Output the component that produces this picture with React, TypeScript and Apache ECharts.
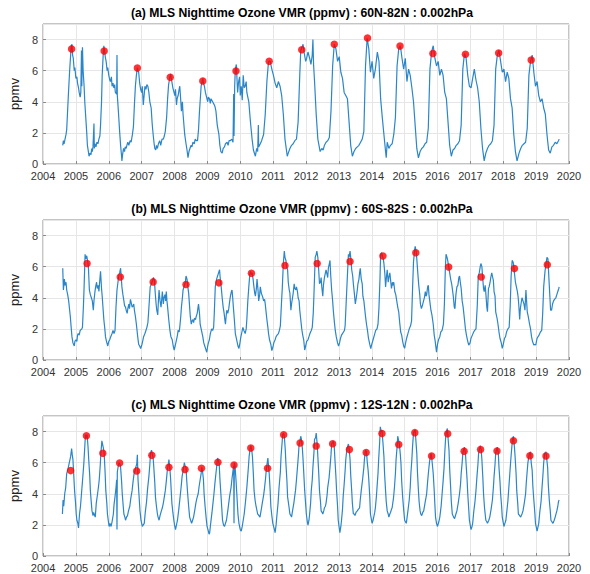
import React, { useEffect, useRef } from "react";
import * as echarts from "echarts";

const panelTitles = [
  "(a) MLS Nighttime Ozone VMR (ppmv) : 60N-82N : 0.002hPa",
  "(b) MLS Nighttime Ozone VMR (ppmv) : 60S-82S : 0.002hPa",
  "(c) MLS Nighttime Ozone VMR (ppmv) : 12S-12N : 0.002hPa",
];
const yAxisName = "ppmv";
const yearMin = 2004;
const yearMax = 2020;

// (a) 60N-82N daily series [year, ppmv]
const ozoneA: [number, number][] = [
  [2004.6,1.2],[2004.62,1.5],[2004.64,1.3],[2004.67,1.6],[2004.7,1.9],[2004.72,2.2],[2004.75,3.5],[2004.78,4.8],[2004.81,6.0],[2004.84,7.0],[2004.86,7.6],[2004.88,7.7],[2004.9,7.0],[2004.92,6.8],[2004.95,6.0],[2004.97,6.2],
  [2005.0,5.5],[2005.03,5.6],[2005.05,5.2],[2005.08,4.9],[2005.1,4.6],[2005.13,4.3],[2005.15,4.6],[2005.17,7.3],[2005.18,5.0],[2005.2,7.5],[2005.22,6.0],[2005.25,5.0],[2005.27,4.0],[2005.3,3.0],[2005.33,2.0],[2005.35,1.2],[2005.38,0.8],[2005.4,0.5],[2005.43,0.7],[2005.46,0.6],[2005.48,1.0],[2005.5,0.8],[2005.52,1.1],[2005.55,2.6],[2005.56,1.0],[2005.58,1.3],[2005.61,1.1],[2005.64,1.4],[2005.67,1.3],[2005.7,1.6],[2005.73,1.8],[2005.75,2.5],[2005.78,4.0],[2005.8,5.7],[2005.83,7.0],[2005.85,7.6],[2005.87,7.3],[2005.9,6.8],[2005.92,6.6],[2005.95,6.0],[2005.97,6.2],
  [2006.0,5.7],[2006.03,5.4],[2006.05,5.3],[2006.08,5.6],[2006.1,5.0],[2006.13,5.2],[2006.15,4.9],[2006.18,5.1],[2006.2,4.6],[2006.24,4.5],[2006.25,7.0],[2006.26,4.4],[2006.28,3.8],[2006.31,2.8],[2006.33,2.1],[2006.36,1.2],[2006.39,0.5],[2006.4,0.2],[2006.42,0.6],[2006.45,1.0],[2006.48,0.8],[2006.5,1.1],[2006.53,1.0],[2006.55,1.2],[2006.58,1.4],[2006.61,1.2],[2006.65,1.5],[2006.68,1.4],[2006.72,1.9],[2006.75,2.4],[2006.78,3.8],[2006.81,5.0],[2006.84,5.7],[2006.87,6.2],[2006.89,6.0],[2006.91,5.9],[2006.94,5.2],[2006.97,4.8],
  [2007.0,4.6],[2007.02,5.0],[2007.05,3.8],[2007.08,4.5],[2007.1,5.0],[2007.13,4.8],[2007.16,5.1],[2007.19,5.0],[2007.22,4.6],[2007.25,4.0],[2007.29,3.6],[2007.32,2.6],[2007.35,1.9],[2007.38,1.3],[2007.4,1.0],[2007.43,0.9],[2007.45,1.2],[2007.48,1.0],[2007.51,1.3],[2007.55,1.5],[2007.58,1.2],[2007.62,1.6],[2007.66,1.6],[2007.69,1.8],[2007.72,2.1],[2007.76,3.0],[2007.79,4.2],[2007.82,5.1],[2007.86,5.6],[2007.88,5.8],[2007.91,5.4],[2007.95,4.9],
  [2008.01,4.4],[2008.03,4.8],[2008.06,3.8],[2008.08,4.2],[2008.11,4.4],[2008.14,4.8],[2008.16,5.0],[2008.18,4.4],[2008.21,3.4],[2008.24,4.0],[2008.26,3.2],[2008.31,1.9],[2008.35,1.3],[2008.38,0.9],[2008.41,0.4],[2008.44,0.8],[2008.47,1.0],[2008.5,1.2],[2008.53,1.1],[2008.56,1.4],[2008.6,1.3],[2008.63,1.6],[2008.66,1.5],[2008.7,1.5],[2008.73,2.2],[2008.76,3.4],[2008.81,5.0],[2008.84,5.3],[2008.86,5.5],[2008.88,5.2],[2008.91,5.0],[2008.94,4.6],
  [2009.01,4.0],[2009.03,4.3],[2009.06,4.2],[2009.09,3.9],[2009.11,4.2],[2009.16,4.0],[2009.21,3.8],[2009.23,3.7],[2009.26,3.4],[2009.3,2.5],[2009.35,1.9],[2009.38,1.2],[2009.41,0.8],[2009.45,0.7],[2009.48,1.0],[2009.52,1.1],[2009.55,1.3],[2009.6,1.4],[2009.63,1.2],[2009.66,1.5],[2009.7,1.5],[2009.74,1.6],[2009.78,1.4],[2009.8,4.5],[2009.81,1.8],[2009.83,5.0],[2009.85,6.1],[2009.88,6.4],[2009.9,5.5],[2009.92,4.6],[2009.95,5.3],[2009.98,5.6],
  [2010.0,4.4],[2010.03,5.0],[2010.06,4.1],[2010.09,5.7],[2010.12,4.9],[2010.15,5.0],[2010.18,5.3],[2010.2,4.6],[2010.26,4.0],[2010.31,2.7],[2010.36,1.6],[2010.4,0.9],[2010.46,0.5],[2010.5,1.0],[2010.53,0.8],[2010.55,2.5],[2010.56,1.1],[2010.61,1.3],[2010.65,1.5],[2010.68,1.7],[2010.71,1.9],[2010.76,3.2],[2010.81,5.3],[2010.86,6.6],[2010.91,6.6],[2010.96,6.1],
  [2011.01,5.7],[2011.06,5.2],[2011.11,4.9],[2011.16,5.3],[2011.21,5.0],[2011.26,4.4],[2011.31,3.2],[2011.36,1.6],[2011.43,0.5],[2011.46,0.7],[2011.51,1.0],[2011.56,1.2],[2011.61,1.3],[2011.66,1.5],[2011.71,1.6],[2011.76,2.7],[2011.81,5.7],[2011.84,7.3],[2011.88,7.5],[2011.91,7.7],[2011.94,7.2],[2011.99,6.6],
  [2012.02,6.8],[2012.06,7.2],[2012.11,6.8],[2012.15,6.4],[2012.19,7.0],[2012.21,8.0],[2012.23,6.4],[2012.26,5.3],[2012.31,3.2],[2012.36,1.6],[2012.43,0.8],[2012.48,1.0],[2012.52,0.9],[2012.56,1.2],[2012.61,1.4],[2012.66,1.5],[2012.71,1.7],[2012.76,3.4],[2012.81,6.3],[2012.86,7.7],[2012.91,7.4],[2012.96,6.6],
  [2013.01,6.9],[2013.06,5.9],[2013.11,5.5],[2013.16,4.6],[2013.21,4.4],[2013.26,4.2],[2013.31,2.7],[2013.36,1.2],[2013.41,0.5],[2013.46,0.8],[2013.51,1.0],[2013.56,1.1],[2013.61,1.2],[2013.66,1.4],[2013.71,1.6],[2013.76,2.1],[2013.81,6.3],[2013.86,8.1],[2013.91,7.4],[2013.96,5.9],
  [2014.01,6.6],[2014.06,5.5],[2014.11,6.1],[2014.17,7.2],[2014.22,6.6],[2014.27,4.2],[2014.32,3.0],[2014.37,1.9],[2014.42,0.8],[2014.44,0.4],[2014.47,1.4],[2014.52,1.0],[2014.57,1.2],[2014.62,1.3],[2014.67,1.9],[2014.72,3.0],[2014.77,6.3],[2014.82,7.4],[2014.87,7.6],[2014.92,6.8],[2014.97,6.1],
  [2015.02,6.8],[2015.07,5.3],[2015.12,6.1],[2015.17,5.7],[2015.22,4.9],[2015.27,4.0],[2015.32,2.5],[2015.37,1.0],[2015.42,0.4],[2015.47,0.8],[2015.52,1.0],[2015.57,1.1],[2015.62,1.3],[2015.67,1.4],[2015.72,2.3],[2015.77,6.1],[2015.82,7.2],[2015.87,7.6],[2015.92,6.8],[2015.97,6.3],
  [2016.02,6.6],[2016.07,5.7],[2016.12,6.1],[2016.17,5.7],[2016.22,4.6],[2016.27,4.2],[2016.32,2.7],[2016.37,1.2],[2016.42,0.5],[2016.47,0.9],[2016.52,1.0],[2016.57,1.2],[2016.62,1.3],[2016.67,1.5],[2016.72,2.5],[2016.77,6.1],[2016.82,7.1],[2016.87,6.8],[2016.92,5.7],[2016.97,5.0],
  [2017.02,4.9],[2017.07,5.5],[2017.12,6.1],[2017.17,5.4],[2017.22,4.9],[2017.27,4.0],[2017.32,2.3],[2017.37,1.0],[2017.42,0.2],[2017.47,0.7],[2017.52,1.0],[2017.57,1.2],[2017.62,1.3],[2017.67,1.5],[2017.72,2.5],[2017.77,6.1],[2017.82,7.0],[2017.87,7.3],[2017.92,6.6],[2017.97,5.9],
  [2018.02,6.1],[2018.07,5.3],[2018.12,5.9],[2018.17,5.5],[2018.22,4.2],[2018.27,3.6],[2018.32,1.9],[2018.37,0.8],[2018.42,0.2],[2018.48,0.7],[2018.53,1.0],[2018.58,1.2],[2018.63,1.3],[2018.68,1.4],[2018.73,2.3],[2018.78,5.7],[2018.83,6.6],[2018.88,7.0],[2018.93,5.9],[2018.98,5.0],
  [2019.03,5.3],[2019.08,4.4],[2019.13,4.0],[2019.18,4.2],[2019.23,3.6],[2019.28,3.2],[2019.33,1.9],[2019.38,0.9],[2019.43,0.7],[2019.48,1.1],[2019.53,1.2],[2019.58,1.4],[2019.63,1.3],[2019.68,1.5],[2019.7,1.6],
];
const peakYearsA = [2004.87,2005.86,2006.87,2007.87,2008.86,2009.87,2010.88,2011.87,2012.86,2013.87,2014.86,2015.86,2016.85,2017.86,2018.85];
const peakValuesA = [7.4,7.26,6.17,5.58,5.34,5.98,6.6,7.35,7.7,8.1,7.58,7.1,7.05,7.13,6.69];

// (b) 60S-82S daily series [year, ppmv]
const ozoneB: [number, number][] = [
  [2004.6,5.9],[2004.62,4.5],[2004.65,5.2],[2004.67,4.8],[2004.7,5.0],[2004.72,4.5],[2004.75,4.2],[2004.78,3.8],[2004.81,3.2],[2004.83,2.8],[2004.86,2.0],[2004.88,1.5],[2004.91,1.1],[2004.95,0.9],[2004.97,1.2],
  [2005.0,1.3],[2005.03,1.2],[2005.05,1.6],[2005.07,1.7],[2005.1,1.6],[2005.13,1.9],[2005.15,1.9],[2005.18,2.0],[2005.2,2.1],[2005.23,3.5],[2005.25,4.7],[2005.28,6.8],[2005.3,6.5],[2005.33,6.7],[2005.36,6.3],[2005.38,6.0],[2005.41,4.5],[2005.44,4.2],[2005.47,4.0],[2005.5,3.8],[2005.53,3.2],[2005.55,3.8],[2005.58,4.4],[2005.6,4.7],[2005.63,5.0],[2005.65,4.6],[2005.68,4.8],[2005.7,4.4],[2005.73,5.2],[2005.75,5.7],[2005.78,4.6],[2005.8,4.1],[2005.83,3.2],[2005.85,2.6],[2005.88,2.0],[2005.9,1.5],[2005.93,1.2],[2005.97,0.9],
  [2006.0,1.2],[2006.03,1.3],[2006.06,1.5],[2006.1,1.7],[2006.13,1.9],[2006.16,1.7],[2006.19,1.9],[2006.22,3.4],[2006.25,4.5],[2006.28,5.0],[2006.3,5.4],[2006.33,5.6],[2006.36,5.9],[2006.38,5.3],[2006.4,4.7],[2006.43,4.2],[2006.46,3.8],[2006.48,3.5],[2006.51,3.4],[2006.53,3.2],[2006.56,3.0],[2006.58,3.3],[2006.61,3.6],[2006.63,3.3],[2006.66,3.9],[2006.68,3.7],[2006.71,3.4],[2006.74,3.5],[2006.76,3.6],[2006.78,3.2],[2006.81,2.8],[2006.84,2.3],[2006.86,1.9],[2006.88,1.5],[2006.91,1.0],[2006.94,0.9],[2006.97,0.74],
  [2007.01,1.0],[2007.04,1.3],[2007.06,1.5],[2007.1,1.7],[2007.13,1.9],[2007.16,2.1],[2007.19,2.4],[2007.21,3.0],[2007.24,4.0],[2007.26,4.7],[2007.3,4.9],[2007.33,5.1],[2007.36,5.3],[2007.39,5.1],[2007.41,4.4],[2007.44,3.6],[2007.46,3.2],[2007.49,2.9],[2007.51,3.8],[2007.53,4.5],[2007.56,3.8],[2007.59,3.4],[2007.61,3.9],[2007.63,4.4],[2007.66,3.6],[2007.68,4.0],[2007.71,4.2],[2007.73,3.8],[2007.75,4.4],[2007.77,3.8],[2007.79,3.4],[2007.82,2.7],[2007.86,1.9],[2007.89,1.5],[2007.93,1.3],[2007.96,0.9],[2007.99,0.64],
  [2008.02,0.9],[2008.06,1.3],[2008.09,1.6],[2008.11,1.9],[2008.14,1.8],[2008.16,2.1],[2008.19,2.8],[2008.21,3.4],[2008.24,4.0],[2008.26,4.5],[2008.3,4.8],[2008.33,5.0],[2008.35,5.4],[2008.38,5.2],[2008.4,4.8],[2008.43,4.3],[2008.46,3.4],[2008.48,2.8],[2008.51,2.3],[2008.53,2.5],[2008.56,2.6],[2008.58,2.4],[2008.61,2.7],[2008.64,2.6],[2008.66,2.8],[2008.69,3.0],[2008.71,3.3],[2008.73,3.6],[2008.76,3.0],[2008.78,2.3],[2008.82,1.9],[2008.86,1.5],[2008.89,1.1],[2008.92,0.9],[2008.95,0.7],[2008.98,0.5],
  [2009.01,0.9],[2009.03,1.1],[2009.06,1.3],[2009.09,1.7],[2009.13,2.0],[2009.16,1.9],[2009.19,2.1],[2009.21,3.0],[2009.24,4.7],[2009.28,5.2],[2009.31,5.4],[2009.34,5.6],[2009.37,5.8],[2009.4,5.0],[2009.42,4.7],[2009.45,4.0],[2009.48,3.4],[2009.51,3.0],[2009.53,2.6],[2009.55,2.3],[2009.57,2.8],[2009.59,3.2],[2009.62,3.0],[2009.65,3.3],[2009.68,3.8],[2009.7,4.1],[2009.73,4.4],[2009.75,4.5],[2009.77,4.0],[2009.79,3.4],[2009.82,2.6],[2009.85,1.7],[2009.88,1.4],[2009.91,1.1],[2009.93,0.9],[2009.96,0.74],[2009.99,1.1],
  [2010.02,1.5],[2010.05,1.8],[2010.08,2.1],[2010.11,1.9],[2010.15,1.7],[2010.18,2.0],[2010.2,2.6],[2010.23,3.8],[2010.26,4.7],[2010.29,5.5],[2010.31,5.7],[2010.34,5.5],[2010.36,5.6],[2010.39,5.2],[2010.41,4.8],[2010.44,4.3],[2010.46,4.1],[2010.49,4.6],[2010.51,5.2],[2010.54,4.5],[2010.56,3.8],[2010.59,4.2],[2010.61,4.7],[2010.64,4.3],[2010.66,4.3],[2010.69,4.0],[2010.71,3.8],[2010.74,3.9],[2010.76,3.6],[2010.79,3.0],[2010.81,2.6],[2010.84,2.1],[2010.86,1.7],[2010.89,1.3],[2010.93,1.0],[2010.96,0.6],[2010.99,0.8],
  [2011.02,1.1],[2011.06,1.3],[2011.09,1.5],[2011.12,1.6],[2011.16,1.7],[2011.19,1.9],[2011.22,2.2],[2011.25,3.5],[2011.28,4.7],[2011.31,6.2],[2011.34,7.0],[2011.36,6.6],[2011.39,6.4],[2011.41,6.0],[2011.44,5.8],[2011.46,5.0],[2011.49,4.5],[2011.51,4.3],[2011.54,3.2],[2011.56,3.6],[2011.59,4.0],[2011.61,4.3],[2011.64,4.9],[2011.66,4.6],[2011.69,4.5],[2011.71,4.7],[2011.74,4.4],[2011.76,4.0],[2011.79,3.8],[2011.81,3.2],[2011.84,2.6],[2011.87,2.0],[2011.9,1.6],[2011.93,1.3],[2011.96,0.64],[2011.99,0.9],
  [2012.02,1.2],[2012.06,1.3],[2012.09,1.5],[2012.12,1.7],[2012.16,1.9],[2012.19,2.1],[2012.22,3.0],[2012.24,4.1],[2012.28,6.6],[2012.31,6.8],[2012.33,7.0],[2012.36,6.6],[2012.38,6.0],[2012.41,4.9],[2012.44,5.0],[2012.46,5.3],[2012.48,4.7],[2012.51,4.1],[2012.53,4.8],[2012.56,5.3],[2012.58,5.5],[2012.61,5.8],[2012.63,5.6],[2012.66,5.3],[2012.68,5.9],[2012.71,6.2],[2012.73,6.4],[2012.75,5.5],[2012.78,4.5],[2012.81,3.8],[2012.83,3.2],[2012.86,2.5],[2012.89,1.9],[2012.92,1.5],[2012.96,1.1],[2012.99,0.9],
  [2013.02,1.1],[2013.05,1.4],[2013.08,1.6],[2013.11,1.7],[2013.14,1.8],[2013.17,1.9],[2013.19,2.2],[2013.22,3.6],[2013.25,5.0],[2013.29,6.8],[2013.31,6.6],[2013.34,7.0],[2013.37,6.4],[2013.39,5.8],[2013.42,5.4],[2013.44,4.9],[2013.47,4.3],[2013.5,3.6],[2013.53,4.0],[2013.56,4.5],[2013.58,4.9],[2013.61,5.2],[2013.63,5.6],[2013.65,5.9],[2013.68,5.2],[2013.71,4.9],[2013.73,4.1],[2013.76,3.8],[2013.78,3.4],[2013.81,2.8],[2013.84,2.3],[2013.87,1.9],[2013.9,1.4],[2013.94,1.0],[2013.97,0.74],
  [2014.0,1.0],[2014.04,1.3],[2014.08,1.6],[2014.12,1.9],[2014.16,2.0],[2014.19,2.3],[2014.22,3.4],[2014.25,5.2],[2014.27,6.8],[2014.3,6.9],[2014.32,6.7],[2014.35,6.5],[2014.37,6.2],[2014.4,5.5],[2014.42,4.7],[2014.45,5.4],[2014.47,5.8],[2014.5,5.0],[2014.52,5.3],[2014.55,5.6],[2014.57,5.2],[2014.6,4.6],[2014.63,5.0],[2014.65,4.8],[2014.67,5.0],[2014.7,4.4],[2014.73,4.2],[2014.76,3.8],[2014.79,3.4],[2014.82,3.1],[2014.85,2.4],[2014.88,1.8],[2014.91,1.6],[2014.94,1.2],[2014.97,0.9],
  [2015.0,0.75],[2015.03,1.1],[2015.06,1.4],[2015.1,1.7],[2015.14,2.0],[2015.18,2.2],[2015.21,2.5],[2015.24,4.5],[2015.27,6.3],[2015.3,7.0],[2015.32,7.3],[2015.35,7.0],[2015.37,6.5],[2015.4,5.6],[2015.43,4.8],[2015.46,4.2],[2015.48,3.6],[2015.51,3.3],[2015.54,3.5],[2015.57,3.75],[2015.6,4.0],[2015.63,4.4],[2015.65,4.1],[2015.67,4.2],[2015.7,4.7],[2015.72,4.8],[2015.74,4.2],[2015.77,3.7],[2015.8,3.2],[2015.83,2.9],[2015.87,2.3],[2015.9,1.6],[2015.93,1.2],[2015.97,0.5],
  [2016.0,1.0],[2016.03,1.3],[2016.07,1.5],[2016.1,1.8],[2016.14,1.9],[2016.18,2.3],[2016.21,3.6],[2016.24,6.0],[2016.26,6.8],[2016.29,6.6],[2016.31,6.4],[2016.34,6.0],[2016.37,5.6],[2016.4,5.2],[2016.43,4.9],[2016.45,4.6],[2016.48,4.1],[2016.51,3.4],[2016.53,3.3],[2016.56,4.2],[2016.59,4.7],[2016.62,4.8],[2016.65,5.3],[2016.67,5.4],[2016.7,4.9],[2016.72,4.6],[2016.75,3.8],[2016.78,3.4],[2016.82,2.6],[2016.85,2.0],[2016.88,1.6],[2016.92,1.2],[2016.95,0.96],[2016.99,1.1],
  [2017.02,1.4],[2017.06,1.6],[2017.1,1.8],[2017.13,1.9],[2017.17,2.0],[2017.21,3.5],[2017.24,5.4],[2017.27,5.6],[2017.3,6.0],[2017.32,6.2],[2017.35,6.0],[2017.37,5.4],[2017.4,4.6],[2017.42,4.4],[2017.45,4.8],[2017.47,4.3],[2017.5,3.4],[2017.52,3.1],[2017.55,4.6],[2017.57,4.7],[2017.6,5.0],[2017.62,5.3],[2017.65,5.6],[2017.67,5.4],[2017.7,5.1],[2017.72,4.4],[2017.75,4.1],[2017.77,3.1],[2017.81,2.7],[2017.84,2.3],[2017.87,1.8],[2017.9,1.4],[2017.94,1.1],[2017.97,0.75],
  [2018.0,1.0],[2018.04,1.4],[2018.07,1.5],[2018.1,1.8],[2018.14,2.0],[2018.18,2.1],[2018.21,3.4],[2018.24,5.4],[2018.27,6.4],[2018.3,6.3],[2018.32,6.0],[2018.35,5.4],[2018.37,5.0],[2018.4,4.7],[2018.43,4.4],[2018.45,4.1],[2018.47,3.6],[2018.5,2.6],[2018.52,3.3],[2018.54,3.6],[2018.57,4.0],[2018.6,3.8],[2018.63,3.6],[2018.66,3.2],[2018.69,4.5],[2018.71,3.8],[2018.73,3.1],[2018.76,2.8],[2018.8,2.3],[2018.83,2.0],[2018.86,1.5],[2018.89,1.2],[2018.93,0.96],[2018.96,1.0],[2018.99,0.97],
  [2019.03,1.4],[2019.06,1.5],[2019.09,1.6],[2019.13,1.8],[2019.17,1.9],[2019.2,3.0],[2019.23,4.7],[2019.27,5.7],[2019.3,6.2],[2019.33,6.6],[2019.36,6.5],[2019.39,5.2],[2019.42,4.0],[2019.44,3.2],[2019.47,3.2],[2019.5,3.6],[2019.53,3.8],[2019.56,3.9],[2019.6,4.0],[2019.63,4.2],[2019.66,4.4],[2019.69,4.6],[2019.7,4.7],
];
const peakYearsB = [2005.34,2006.35,2007.35,2008.35,2009.35,2010.34,2011.36,2012.34,2013.34,2014.34,2015.34,2016.34,2017.33,2018.34,2019.34];
const peakValuesB = [6.2,5.34,5.02,4.85,4.96,5.58,6.07,6.2,6.33,6.69,6.9,5.98,5.34,5.88,6.13];

// (c) 12S-12N daily series [year, ppmv]
const ozoneC: [number, number][] = [
  [2004.59,2.7],[2004.61,3.6],[2004.63,3.2],[2004.66,4.0],[2004.69,4.4],[2004.72,5.3],[2004.76,5.6],[2004.79,5.9],[2004.82,6.2],[2004.84,6.4],[2004.87,6.9],[2004.89,6.5],[2004.91,6.2],[2004.94,5.0],[2004.96,4.2],[2004.99,3.4],
  [2005.01,2.7],[2005.03,2.3],[2005.06,2.1],[2005.08,1.8],[2005.11,2.7],[2005.14,3.2],[2005.17,4.0],[2005.2,4.8],[2005.24,5.9],[2005.27,7.0],[2005.29,7.8],[2005.32,7.6],[2005.34,7.8],[2005.37,7.0],[2005.39,6.2],[2005.42,5.2],[2005.44,4.2],[2005.47,3.4],[2005.49,2.9],[2005.52,2.6],[2005.54,2.8],[2005.57,2.6],[2005.59,2.5],[2005.62,3.4],[2005.66,4.0],[2005.69,4.5],[2005.71,4.9],[2005.74,5.8],[2005.76,6.6],[2005.79,7.4],[2005.81,7.4],[2005.84,6.9],[2005.86,6.6],[2005.89,5.3],[2005.91,4.2],[2005.94,3.4],[2005.96,2.7],[2005.99,2.2],
  [2006.01,1.9],[2006.04,2.1],[2006.07,1.9],[2006.1,2.2],[2006.14,2.7],[2006.16,3.3],[2006.19,3.8],[2006.22,4.4],[2006.24,4.9],[2006.25,1.7],[2006.26,5.4],[2006.29,5.8],[2006.31,6.0],[2006.34,5.9],[2006.36,5.7],[2006.39,4.8],[2006.41,4.0],[2006.44,3.2],[2006.46,2.7],[2006.49,2.5],[2006.51,2.3],[2006.54,2.5],[2006.57,2.6],[2006.6,2.9],[2006.64,3.2],[2006.67,3.7],[2006.71,4.2],[2006.74,4.8],[2006.77,5.3],[2006.8,5.5],[2006.82,5.7],[2006.85,5.9],[2006.87,6.5],[2006.89,4.9],[2006.92,3.9],[2006.95,2.9],[2006.98,2.3],
  [2007.02,1.9],[2007.05,2.0],[2007.08,2.1],[2007.11,2.8],[2007.15,3.5],[2007.18,4.3],[2007.22,5.1],[2007.25,5.9],[2007.27,6.6],[2007.3,6.8],[2007.32,6.8],[2007.35,6.3],[2007.37,5.7],[2007.4,4.7],[2007.42,3.8],[2007.45,3.2],[2007.48,2.7],[2007.5,2.5],[2007.53,2.3],[2007.56,2.6],[2007.6,2.9],[2007.63,3.1],[2007.66,3.4],[2007.69,3.8],[2007.72,4.2],[2007.75,4.8],[2007.78,5.5],[2007.81,5.9],[2007.83,6.2],[2007.86,5.6],[2007.88,5.0],[2007.9,4.2],[2007.92,3.4],[2007.95,2.8],[2007.98,2.3],
  [2008.0,2.0],[2008.03,1.7],[2008.06,2.0],[2008.09,2.3],[2008.13,3.0],[2008.17,3.8],[2008.2,4.4],[2008.23,5.1],[2008.27,5.6],[2008.3,6.0],[2008.32,5.8],[2008.35,5.7],[2008.37,4.9],[2008.4,4.0],[2008.43,3.2],[2008.46,2.5],[2008.49,2.3],[2008.52,2.1],[2008.55,2.3],[2008.58,2.5],[2008.62,3.0],[2008.65,3.4],[2008.68,3.7],[2008.72,4.0],[2008.75,4.5],[2008.78,4.9],[2008.81,5.3],[2008.83,5.7],[2008.85,5.5],[2008.88,4.9],[2008.9,4.0],[2008.93,3.2],[2008.96,2.5],[2008.99,1.9],
  [2009.03,1.6],[2009.05,1.4],[2009.07,1.5],[2009.1,2.1],[2009.14,2.8],[2009.17,3.4],[2009.2,4.0],[2009.23,4.7],[2009.26,5.3],[2009.29,5.9],[2009.31,6.3],[2009.34,6.1],[2009.36,5.9],[2009.38,5.0],[2009.41,4.0],[2009.44,3.0],[2009.46,2.3],[2009.49,2.0],[2009.52,1.9],[2009.55,2.1],[2009.58,2.3],[2009.62,2.9],[2009.65,3.4],[2009.68,3.9],[2009.72,4.4],[2009.75,5.0],[2009.78,5.5],[2009.8,5.8],[2009.81,2.1],[2009.82,6.0],[2009.84,5.8],[2009.87,4.9],[2009.9,3.8],[2009.93,2.7],[2009.96,2.1],
  [2010.0,1.7],[2010.03,1.6],[2010.06,1.9],[2010.09,2.3],[2010.12,2.7],[2010.16,3.5],[2010.2,4.4],[2010.24,5.5],[2010.27,6.4],[2010.3,6.9],[2010.32,7.1],[2010.35,6.8],[2010.37,6.4],[2010.4,5.2],[2010.42,4.2],[2010.45,3.6],[2010.48,3.2],[2010.53,2.7],[2010.57,2.6],[2010.6,2.5],[2010.64,3.0],[2010.67,3.4],[2010.71,3.9],[2010.74,4.4],[2010.77,5.0],[2010.79,5.5],[2010.82,6.0],[2010.84,6.3],[2010.86,5.8],[2010.88,5.3],[2010.91,4.2],[2010.93,3.2],[2010.96,2.6],[2010.99,2.1],
  [2011.04,1.7],[2011.06,1.5],[2011.09,2.0],[2011.11,2.5],[2011.15,3.4],[2011.18,4.4],[2011.22,5.4],[2011.24,6.4],[2011.27,7.2],[2011.29,7.8],[2011.32,7.9],[2011.34,7.7],[2011.37,6.8],[2011.39,5.9],[2011.42,4.8],[2011.44,3.8],[2011.48,3.2],[2011.51,2.7],[2011.54,2.6],[2011.56,2.5],[2011.59,2.9],[2011.63,3.4],[2011.66,3.9],[2011.68,4.2],[2011.71,4.9],[2011.74,5.7],[2011.77,6.5],[2011.79,7.2],[2011.81,7.3],[2011.84,7.7],[2011.86,7.5],[2011.89,6.9],[2011.91,6.2],[2011.94,5.0],[2011.96,4.2],[2011.99,3.3],
  [2012.01,2.7],[2012.04,2.2],[2012.06,1.98],[2012.09,2.3],[2012.11,2.7],[2012.14,3.4],[2012.16,4.2],[2012.19,4.9],[2012.21,5.7],[2012.24,6.6],[2012.26,7.5],[2012.29,7.6],[2012.31,7.9],[2012.34,7.2],[2012.36,6.4],[2012.39,5.2],[2012.41,4.2],[2012.44,3.5],[2012.46,2.9],[2012.49,2.8],[2012.51,2.7],[2012.54,2.9],[2012.56,3.1],[2012.59,3.2],[2012.61,3.4],[2012.64,3.9],[2012.66,4.4],[2012.7,5.0],[2012.73,5.7],[2012.76,6.5],[2012.78,7.2],[2012.81,7.3],[2012.83,7.4],[2012.86,7.0],[2012.88,6.2],[2012.91,5.1],[2012.93,4.2],[2012.96,3.2],[2012.98,2.3],
  [2013.01,1.8],[2013.03,1.5],[2013.06,1.9],[2013.08,2.3],[2013.11,3.0],[2013.13,3.8],[2013.16,4.6],[2013.19,5.5],[2013.21,6.2],[2013.24,6.8],[2013.26,7.0],[2013.29,7.2],[2013.31,6.9],[2013.34,6.2],[2013.36,5.2],[2013.39,4.2],[2013.41,3.4],[2013.44,2.7],[2013.47,2.7],[2013.49,2.6],[2013.52,2.8],[2013.56,2.9],[2013.59,3.0],[2013.63,3.1],[2013.65,3.6],[2013.68,4.2],[2013.72,4.9],[2013.76,5.7],[2013.78,6.3],[2013.81,6.8],[2013.84,6.7],[2013.86,6.1],[2013.89,5.5],[2013.91,4.9],[2013.94,3.8],[2013.96,2.7],
  [2014.01,2.1],[2014.04,2.3],[2014.06,2.5],[2014.09,2.8],[2014.11,3.1],[2014.14,3.8],[2014.16,4.4],[2014.19,5.3],[2014.21,6.2],[2014.24,7.3],[2014.26,8.3],[2014.29,8.0],[2014.31,8.1],[2014.34,7.3],[2014.37,6.4],[2014.39,5.3],[2014.42,4.2],[2014.44,3.5],[2014.47,2.9],[2014.5,2.7],[2014.52,2.5],[2014.55,2.7],[2014.57,2.8],[2014.6,3.0],[2014.62,3.1],[2014.66,3.7],[2014.69,4.4],[2014.72,5.3],[2014.74,6.2],[2014.77,7.0],[2014.79,7.7],[2014.82,7.4],[2014.84,7.2],[2014.87,6.5],[2014.89,5.9],[2014.91,4.8],[2014.94,3.8],[2014.97,3.0],
  [2015.0,2.3],[2015.05,2.1],[2015.07,2.4],[2015.1,2.9],[2015.14,3.6],[2015.17,4.4],[2015.19,5.3],[2015.22,6.2],[2015.24,7.0],[2015.27,7.9],[2015.29,8.0],[2015.32,8.1],[2015.34,7.5],[2015.37,6.6],[2015.39,5.4],[2015.42,4.2],[2015.44,3.5],[2015.47,2.9],[2015.49,2.7],[2015.52,2.6],[2015.55,2.8],[2015.58,2.9],[2015.62,3.4],[2015.67,4.0],[2015.7,4.8],[2015.73,5.5],[2015.76,6.1],[2015.8,6.6],[2015.82,6.4],[2015.84,6.4],[2015.87,5.3],[2015.9,4.2],[2015.92,3.3],[2015.94,2.5],[2015.97,2.1],
  [2016.0,1.9],[2016.04,2.2],[2016.07,2.5],[2016.11,3.2],[2016.14,4.0],[2016.17,4.8],[2016.2,5.7],[2016.22,6.6],[2016.25,7.7],[2016.27,8.0],[2016.3,8.2],[2016.32,7.6],[2016.35,6.8],[2016.37,5.6],[2016.4,4.4],[2016.42,3.5],[2016.45,2.7],[2016.49,2.5],[2016.52,2.4],[2016.56,2.7],[2016.59,2.9],[2016.63,3.4],[2016.67,4.0],[2016.7,4.6],[2016.72,5.3],[2016.75,6.0],[2016.77,6.6],[2016.8,6.9],[2016.82,7.0],[2016.85,6.6],[2016.87,5.9],[2016.9,4.9],[2016.92,4.0],[2016.95,3.0],[2016.97,2.3],
  [2017.02,1.7],[2017.05,1.9],[2017.07,2.1],[2017.1,2.8],[2017.14,3.5],[2017.17,4.2],[2017.2,5.1],[2017.23,5.9],[2017.25,6.6],[2017.28,6.9],[2017.3,7.1],[2017.33,6.8],[2017.35,6.2],[2017.38,5.0],[2017.4,4.0],[2017.43,3.1],[2017.47,2.3],[2017.5,2.2],[2017.52,2.1],[2017.56,2.3],[2017.59,2.5],[2017.63,3.0],[2017.67,3.6],[2017.7,4.4],[2017.72,5.1],[2017.75,5.9],[2017.77,6.6],[2017.8,6.9],[2017.82,7.0],[2017.85,6.6],[2017.87,5.7],[2017.9,4.8],[2017.92,4.0],[2017.95,3.2],[2017.97,2.5],
  [2018.02,1.9],[2018.05,2.1],[2018.08,2.3],[2018.11,2.9],[2018.14,3.5],[2018.17,4.4],[2018.2,5.3],[2018.23,6.2],[2018.26,7.0],[2018.28,7.5],[2018.31,7.7],[2018.34,7.0],[2018.36,6.4],[2018.39,5.3],[2018.41,4.2],[2018.44,3.4],[2018.46,2.7],[2018.5,2.6],[2018.53,2.5],[2018.57,2.7],[2018.6,2.9],[2018.64,3.4],[2018.68,4.0],[2018.7,4.7],[2018.73,5.5],[2018.75,6.0],[2018.78,6.4],[2018.8,6.6],[2018.83,6.7],[2018.85,6.0],[2018.88,5.5],[2018.9,4.5],[2018.93,3.6],[2018.96,2.8],[2018.98,2.1],
  [2019.03,1.6],[2019.06,1.9],[2019.08,2.1],[2019.11,2.8],[2019.15,3.5],[2019.18,4.4],[2019.21,5.3],[2019.23,6.0],[2019.26,6.6],[2019.3,6.7],[2019.32,6.3],[2019.35,5.7],[2019.37,4.6],[2019.4,3.6],[2019.43,2.9],[2019.45,2.3],[2019.48,2.2],[2019.51,2.1],[2019.55,2.3],[2019.58,2.5],[2019.63,2.9],[2019.66,3.2],[2019.68,3.5],[2019.7,3.6],
];
const peakYearsC = [2004.84,2005.32,2005.82,2006.33,2006.85,2007.31,2007.83,2008.32,2008.82,2009.32,2009.81,2010.32,2010.83,2011.32,2011.82,2012.31,2012.81,2013.32,2013.83,2014.31,2014.82,2015.31,2015.82,2016.31,2016.81,2017.31,2017.81,2018.31,2018.81,2019.3];
const peakValuesC = [5.49,7.73,6.6,5.98,5.47,6.47,5.7,5.56,5.64,6.03,5.85,6.94,5.64,7.8,7.26,7.07,7.22,6.84,6.65,7.88,7.16,7.93,6.43,7.86,6.73,6.84,6.75,7.41,6.45,6.43];

const panels = [
  { line: ozoneA, peakYears: peakYearsA, peakValues: peakValuesA },
  { line: ozoneB, peakYears: peakYearsB, peakValues: peakValuesB },
  { line: ozoneC, peakYears: peakYearsC, peakValues: peakValuesC },
];

const FONT = '"Liberation Sans", Arial, Helvetica, sans-serif';

export default function App() {
  const ref = useRef<HTMLDivElement>(null);
  useEffect(() => {
    if (!ref.current) return;
    const chart = echarts.init(ref.current, null, { renderer: "svg" });
    const gridTops = [24, 220, 416];
    const plotH = 140;
    const titleTops = [7, 203, 399];

    const option: any = {
      animation: false,
      backgroundColor: "#ffffff",
      textStyle: { fontFamily: FONT },
      title: panelTitles.map((t, i) => ({
        text: t,
        left: 302,
        top: titleTops[i],
        textAlign: "center",
        padding: 0,
        textStyle: { fontFamily: FONT, fontSize: 12.2, fontWeight: "bold", color: "#000" },
      })),
      grid: gridTops.map((top) => ({
        left: 37,
        right: 21,
        top,
        height: plotH,
        show: true,
        borderColor: "#8a8a8a",
        borderWidth: 1,
        backgroundColor: "#ffffff",
        containLabel: false,
      })),
      xAxis: gridTops.map((_, i) => ({
        type: "value",
        gridIndex: i,
        min: yearMin,
        max: yearMax,
        interval: 1,
        axisLine: { show: false },
        axisTick: { show: true, inside: true, length: 3, lineStyle: { color: "#8a8a8a" } },
        splitLine: { show: true, lineStyle: { color: "#e6e6e6", width: 1 } },
        axisLabel: {
          color: "#333",
          fontSize: 11,
          fontFamily: FONT,
          margin: 6,
          formatter: (v: number) => String(Math.round(v)),
        },
      })),
      yAxis: gridTops.map((_, i) => ({
        type: "value",
        gridIndex: i,
        min: 0,
        max: 9,
        interval: 2,
        name: yAxisName,
        nameLocation: "middle",
        nameGap: 14,
        nameRotate: 90,
        nameTextStyle: { fontFamily: FONT, fontSize: 13, color: "#222" },
        axisLine: { show: false },
        axisTick: { show: true, inside: true, length: 3, lineStyle: { color: "#8a8a8a" } },
        splitLine: { show: true, lineStyle: { color: "#e6e6e6", width: 1 } },
        axisLabel: {
          color: "#333",
          fontSize: 11,
          fontFamily: FONT,
          margin: 5,
          showMaxLabel: false,
          formatter: (v: number) => (v > 8 ? "" : String(v)),
        },
      })),
      series: panels.flatMap((p, i) => [
        {
          type: "line",
          xAxisIndex: i,
          yAxisIndex: i,
          data: p.line,
          showSymbol: false,
          symbol: "none",
          smooth: false,
          lineStyle: { color: "#2a86c9", width: 1.2 },
          z: 2,
        },
        {
          type: "scatter",
          xAxisIndex: i,
          yAxisIndex: i,
          data: p.peakYears.map((y, k) => [y, p.peakValues[k]]),
          symbol: "circle",
          symbolSize: 7.5,
          itemStyle: { color: "#ff0000" },
          z: 5,
        },
      ]),
    };
    chart.setOption(option);
    return () => chart.dispose();
  }, []);
  return (
    <div
      ref={ref}
      style={{ position: "absolute", left: 0, top: 0, width: 590, height: 574, background: "#fff" }}
    />
  );
}
